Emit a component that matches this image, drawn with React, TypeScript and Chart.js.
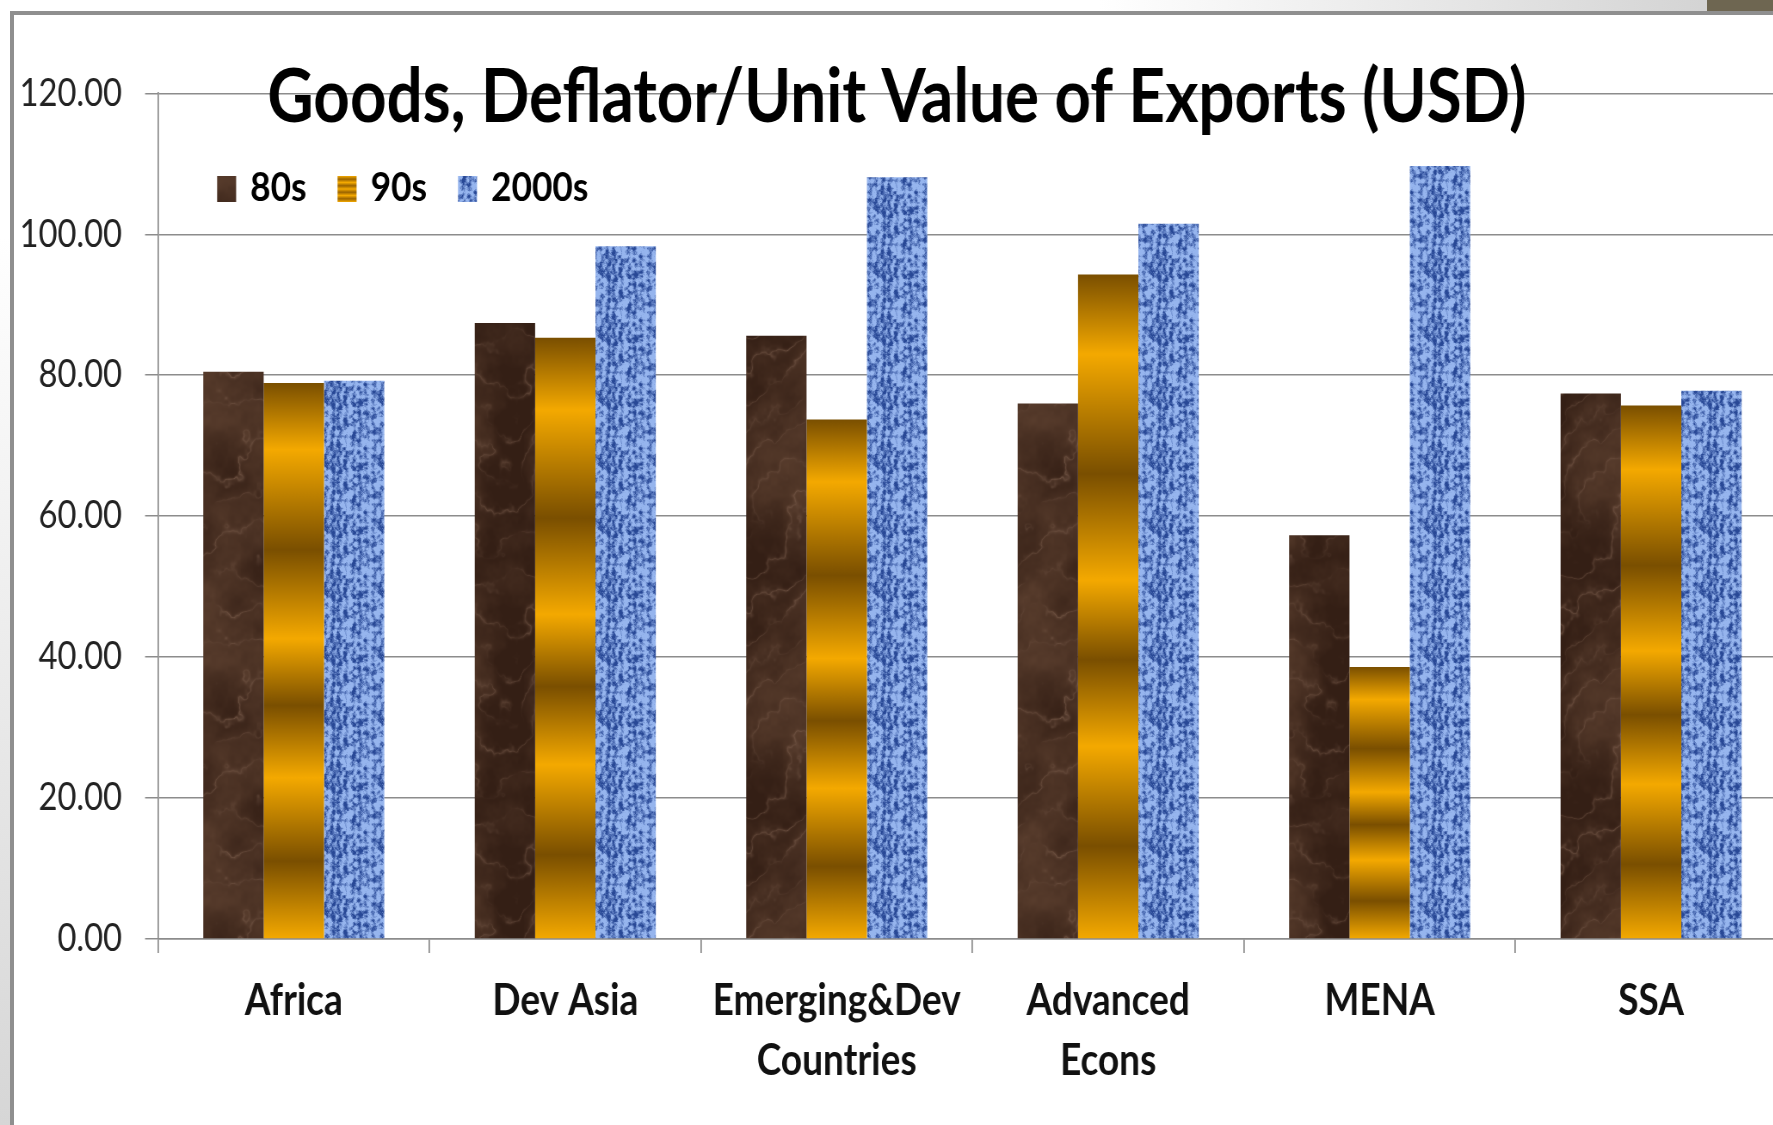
import React, { useEffect, useRef } from "react";
import { Chart, registerables } from "chart.js";

Chart.register(...registerables);

// ---------------- data ----------------
const categories: (string | string[])[] = [
  "Africa",
  "Dev Asia",
  ["Emerging&Dev", "Countries"],
  ["Advanced", "Econs"],
  "MENA",
  "SSA",
];
const seriesNames = ["80s", "90s", "2000s"];
const values80s = [80.5, 87.4, 85.6, 76.0, 57.3, 77.4];
const values90s = [78.9, 85.3, 73.7, 94.3, 38.6, 75.7];
const values2000s = [79.2, 98.3, 108.1, 101.5, 109.7, 77.8];
const yMin = 0;
const yMax = 120;
const yStep = 20;
const chartTitle = "Goods, Deflator/Unit Value of Exports (USD)";

// ---------------- layout / style ----------------
const S = 0.86; // horizontal squeeze of the whole picture
const PLOT_LEFT = 158;
const PLOT_RIGHT = 1786;
const PLOT_TOP = 93.3;
const PLOT_BOTTOM = 939;
const H = 1125;
const INNER_W = PLOT_RIGHT / S;
const GRID = "#8c8c8c";
const FONT = "Lato, 'Open Sans', sans-serif";

// ---------- deterministic texture noise ----------
function hash(x: number, y: number, seed: number) {
  const s = Math.sin(x * 127.1 + y * 311.7 + seed * 74.7) * 43758.5453;
  return s - Math.floor(s);
}
function valueNoise(x: number, y: number, seed: number, period: number) {
  const xi = Math.floor(x), yi = Math.floor(y);
  const xf = x - xi, yf = y - yi;
  const u = xf * xf * (3 - 2 * xf), v = yf * yf * (3 - 2 * yf);
  const m = (a: number) => ((a % period) + period) % period;
  const a = hash(m(xi), m(yi), seed);
  const b = hash(m(xi + 1), m(yi), seed);
  const c = hash(m(xi), m(yi + 1), seed);
  const d = hash(m(xi + 1), m(yi + 1), seed);
  return a + (b - a) * u + (c - a) * v + (a - b - c + d) * u * v;
}
function fbm(x: number, y: number, seed: number, period: number, oct: number) {
  let sum = 0, amp = 0.5, f = 1, norm = 0;
  for (let o = 0; o < oct; o++) {
    sum += amp * valueNoise(x * f, y * f, seed + o, period * f);
    norm += amp;
    amp *= 0.5;
    f *= 2;
  }
  return sum / norm;
}
const clamp = (v: number) => Math.max(0, Math.min(1, v));
const mix = (a: number[], b: number[], t: number) => a.map((av, i) => av + (b[i] - av) * t);

function makeBrownTile() {
  const size = 240;
  const c = document.createElement("canvas");
  c.width = size; c.height = size;
  const g = c.getContext("2d")!;
  const img = g.createImageData(size, size);
  for (let y = 0; y < size; y++) {
    for (let x = 0; x < size; x++) {
      const n = fbm(x / 60, y / 60, 1, 4, 5);
      const n2 = fbm(x / 30, y / 30, 11, 8, 4);
      const w = Math.abs(Math.sin((x / size + (3 * y) / size + n * 2.2) * Math.PI * 2));
      const vein = Math.pow(1 - w, 4) * clamp(n2 * 1.8 - 0.5);
      let col = mix([52, 31, 21], [100, 70, 52], clamp(n * 1.7 - 0.5));
      col = mix(col, [135, 104, 86], vein * 0.6);
      const i = (y * size + x) * 4;
      img.data[i] = col[0]; img.data[i + 1] = col[1]; img.data[i + 2] = col[2]; img.data[i + 3] = 255;
    }
  }
  g.putImageData(img, 0, 0);
  return c;
}

function makeBlueTile() {
  const size = 64;
  const c = document.createElement("canvas");
  c.width = size; c.height = size;
  const g = c.getContext("2d")!;
  const img = g.createImageData(size, size);
  for (let y = 0; y < size; y++) {
    for (let x = 0; x < size; x++) {
      const n = fbm(x / 4, y / 4, 7, 16, 3);
      const weave = Math.sin((x / 8) * Math.PI * 2) * 0.5 + 0.5;
      const t = clamp((n - 0.38) * 2.8 + (weave - 0.5) * 0.4);
      const col = mix([150, 181, 238], [40, 72, 150], t);
      const i = (y * size + x) * 4;
      img.data[i] = col[0]; img.data[i + 1] = col[1]; img.data[i + 2] = col[2]; img.data[i + 3] = 255;
    }
  }
  g.putImageData(img, 0, 0);
  return c;
}

const GOLD = "#f4a900";
const DARKGOLD = "#7a4f00";
function brassGradient(ctx: CanvasRenderingContext2D, top: number, bottom: number) {
  const g = ctx.createLinearGradient(0, top, 0, bottom);
  const stops: [number, string][] = [
    [0, DARKGOLD], [0.12, GOLD], [0.3, DARKGOLD], [0.46, GOLD],
    [0.58, DARKGOLD], [0.71, GOLD], [0.86, DARKGOLD], [1, GOLD],
  ];
  stops.forEach(([p, c]) => g.addColorStop(p, c));
  return g;
}
function stripeGradient(ctx: CanvasRenderingContext2D, top: number, bottom: number) {
  const g = ctx.createLinearGradient(0, top, 0, bottom);
  const n = 8;
  for (let i = 0; i <= n; i++) g.addColorStop(i / n, i % 2 === 0 ? GOLD : "#9a6400");
  return g;
}

export default function App() {
  const canvasRef = useRef<HTMLCanvasElement>(null);

  useEffect(() => {
    document.body.style.margin = "0";
    const canvas = canvasRef.current!;
    const ctx0 = canvas.getContext("2d")!;
    const brown = ctx0.createPattern(makeBrownTile(), "repeat")!;
    const blue = ctx0.createPattern(makeBlueTile(), "repeat")!;

    const goldFill = (c: any) => {
      const chart = c.chart;
      const y = chart.scales && chart.scales.y;
      if (c.type !== "data" || !y) return GOLD;
      const v = typeof c.raw === "number" ? c.raw : c.parsed && c.parsed.y;
      const top = y.getPixelForValue(v);
      const bottom = y.getPixelForValue(0);
      if (!isFinite(top) || !isFinite(bottom) || top === bottom) return GOLD;
      return brassGradient(chart.ctx, top, bottom);
    };

    const decor = {
      id: "decor",
      afterDraw(chart: any) {
        const ctx: CanvasRenderingContext2D = chart.ctx;
        ctx.save();
        // title
        ctx.font = `bold 74px ${FONT}`;
        ctx.fillStyle = "#000";
        ctx.textAlign = "center";
        ctx.textBaseline = "alphabetic";
        ctx.fillText(chartTitle, 896.5 / S, 121.7);
        // legend
        ctx.font = `bold 41px ${FONT}`;
        ctx.textAlign = "left";
        let x = 217 / S;
        const boxTop = 176, boxH = 26;
        chart.data.datasets.forEach((ds: any, i: number) => {
          ctx.fillStyle = i === 0 ? brown : i === 1 ? stripeGradient(ctx, boxTop, boxTop + boxH) : blue;
          ctx.fillRect(x, boxTop, 19 / S, boxH);
          x += 33 / S;
          ctx.fillStyle = "#000";
          ctx.fillText(ds.label, x, 201);
          x += ctx.measureText(ds.label).width + 31 / S;
        });
        ctx.restore();
      },
    };

    let chart: Chart | null = null;
    try {
      chart = new Chart(canvas, {
        type: "bar",
        data: {
          labels: categories as any,
          datasets: [
            { label: seriesNames[0], data: values80s, backgroundColor: brown as any },
            { label: seriesNames[1], data: values90s, backgroundColor: goldFill as any },
            { label: seriesNames[2], data: values2000s, backgroundColor: blue as any },
          ],
        },
        options: {
          animation: false,
          responsive: true,
          maintainAspectRatio: false,
          devicePixelRatio: 1,
          events: [],
          layout: { padding: { top: PLOT_TOP, left: 0, right: 0, bottom: 0 } },
          datasets: { bar: { barPercentage: 1, categoryPercentage: 0.667, borderWidth: 0 } },
          plugins: { legend: { display: false }, tooltip: { enabled: false }, title: { display: false } },
          scales: {
            x: {
              offset: true,
              grid: {
                display: true, drawOnChartArea: false, drawTicks: true, tickLength: 14,
                offset: true, color: GRID, lineWidth: 1.5 / S,
              },
              border: { display: true, color: GRID, width: 1.5 },
              ticks: {
                color: "#111",
                padding: 18,
                maxRotation: 0,
                autoSkip: false,
                font: { family: FONT, size: 43, weight: "bold", lineHeight: 1.395 },
              },
              afterFit: (s: any) => { s.height = H - PLOT_BOTTOM; },
            },
            y: {
              min: yMin,
              max: yMax,
              ticks: {
                stepSize: yStep,
                color: "#222",
                padding: 23 / S,
                font: { family: FONT, size: 38 },
                callback: (v: any) => Number(v).toFixed(2),
              },
              grid: { color: GRID, lineWidth: 1.5, drawTicks: true, tickLength: 13 / S },
              border: { display: true, color: GRID, width: 1.5 / S },
              afterFit: (s: any) => { s.width = PLOT_LEFT / S; },
            },
          },
        },
        plugins: [decor],
      });
    } catch (e) {
      console.error(e);
    }
    return () => { if (chart) chart.destroy(); };
  }, []);

  return (
    <div style={{ position: "relative", width: 1773, height: H, overflow: "hidden", background: "#fff" }}>
      <div
        style={{
          position: "absolute", left: 0, top: 0, width: INNER_W, height: H,
          transform: `scaleX(${S})`, transformOrigin: "0 0",
        }}
      >
        <canvas ref={canvasRef} />
      </div>
      <div style={{ position: "absolute", left: 0, top: 0, width: 1773, height: 11,
        background: "linear-gradient(to right, #ffffff 62%, #d4d4d4 96%)" }} />
      <div style={{ position: "absolute", left: 1707, top: 0, width: 66, height: 11, background: "#6e6651" }} />
      <div style={{ position: "absolute", left: 0, top: 15, width: 10, height: H - 15,
        background: "linear-gradient(to bottom, #ffffff 20%, #d6d6d6 100%)" }} />
      <div style={{ position: "absolute", left: 10, top: 11, width: 1763, height: 4, background: "#8f8f8f" }} />
      <div style={{ position: "absolute", left: 10, top: 11, width: 4, height: H - 11, background: "#8f8f8f" }} />
    </div>
  );
}
